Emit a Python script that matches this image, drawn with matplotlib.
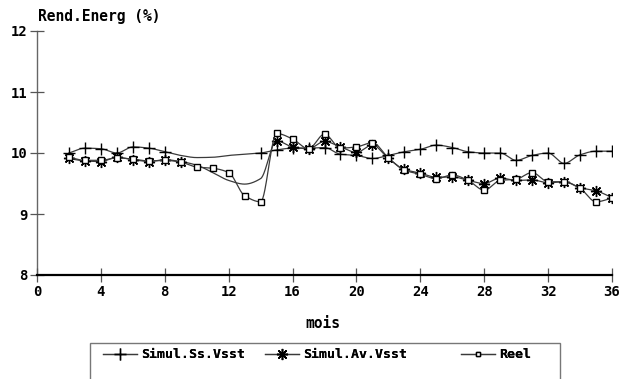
import numpy as np
import matplotlib
matplotlib.use("Agg")
import matplotlib.pyplot as plt
from matplotlib.lines import Line2D
from matplotlib.patches import Rectangle

# Rendement énergétique mensuel : deux simulations et valeurs réelles
mois = list(range(2, 37))

rend_ss = [10.0, 10.08, 10.07, 10.0, 10.10, 10.08, 10.02, 9.96, 9.925, 9.93,
           9.96, 9.98, 10.0, 10.05, 10.08, 10.08, 10.09, 9.98, 9.96, 9.91,
           9.96, 10.02, 10.06, 10.13, 10.09, 10.02, 10.0, 10.0, 9.88, 9.96,
           10.0, 9.83, 9.97, 10.03, 10.03]
# mois sans mesure simulée (courbe seulement, pas de symbole)
trou_ss = [9, 10, 11, 12, 13]

rend_av = [9.91, 9.87, 9.86, 9.93, 9.89, 9.86, 9.89, 9.86, 9.80, 9.68, 9.55,
           9.49, 9.58, 10.2, 10.1, 10.07, 10.19, 10.1, 10.01, 10.13, 9.91,
           9.73, 9.67, 9.6, 9.61, 9.55, 9.5, 9.59, 9.55, 9.56, 9.51, 9.53,
           9.43, 9.38, 9.27]
trou_av = [10, 11, 12, 13, 14]

rend_reel = [9.93, 9.88, 9.88, 9.92, 9.9, 9.87, 9.88, 9.85, 9.77, 9.75, 9.68,
             9.30, 9.20, 10.32, 10.23, 10.07, 10.31, 10.08, 10.10, 10.17, 9.92,
             9.72, 9.65, 9.58, 9.64, 9.55, 9.39, 9.55, 9.57, 9.68, 9.53, 9.53,
             9.42, 9.20, 9.26]
trou_reel = []

noms = ['Simul.Ss.Vsst', 'Simul.Av.Vsst', 'Reel']
x_ticks = [0, 4, 8, 12, 16, 20, 24, 28, 32, 36]
y_ticks = [8, 9, 10, 11, 12]


# interpolation monotone (Fritsch-Carlson) pour lisser les courbes
def lisser(x, y, pas=30):
    x = np.asarray(x, float)
    y = np.asarray(y, float)
    h = np.diff(x)
    d = np.diff(y) / h
    n = len(x)
    m = np.zeros(n)
    m[0] = d[0]
    m[-1] = d[-1]
    for i in range(1, n - 1):
        if d[i - 1] * d[i] > 0:
            w1 = 2 * h[i] + h[i - 1]
            w2 = h[i] + 2 * h[i - 1]
            m[i] = (w1 + w2) / (w1 / d[i - 1] + w2 / d[i])
    xs, ys = [], []
    for i in range(n - 1):
        t = np.linspace(0, 1, pas, endpoint=False)
        h00 = 2 * t**3 - 3 * t**2 + 1
        h10 = t**3 - 2 * t**2 + t
        h01 = -2 * t**3 + 3 * t**2
        h11 = t**3 - t**2
        xs.extend(x[i] + t * h[i])
        ys.extend(h00 * y[i] + h10 * h[i] * m[i] + h01 * y[i + 1]
                  + h11 * h[i] * m[i + 1])
    xs.append(x[-1])
    ys.append(y[-1])
    return np.array(xs), np.array(ys)


plt.rcParams['font.family'] = 'DejaVu Sans Mono'
plt.rcParams['font.weight'] = 'bold'

fig = plt.figure(figsize=(6.19, 3.79), dpi=100)
ax = fig.add_axes([37 / 619, 104 / 379, 575 / 619, 244 / 379])

ligne = '#3a3a3a'
asterisque = (8, 2, 0)

series = [(rend_ss, trou_ss, '+', 9),
          (rend_av, trou_av, asterisque, 8),
          (rend_reel, trou_reel, 's', 5)]
for rend, trou, mk, ms in series:
    xs, ys = lisser(mois, rend)
    ax.plot(xs, ys, color=ligne, lw=0.9)
    mx = [m for m in mois if m not in trou]
    my = [r for m, r in zip(mois, rend) if m not in trou]
    ax.plot(mx, my, ls='none', marker=mk, ms=ms, mec='black',
            mfc='white', mew=1.0)

ax.set_xlim(0, 36)
ax.set_ylim(8, 12)
ax.set_xticks(x_ticks)
ax.set_yticks(y_ticks)
ax.tick_params(axis='both', direction='inout', length=10, width=0.9,
               labelsize=10, color='#555555')
ax.tick_params(axis='x', pad=2)
ax.tick_params(axis='y', pad=2)

for cote in ['top', 'right']:
    ax.spines[cote].set_visible(False)
ax.spines['left'].set_color('#666666')
ax.spines['left'].set_linewidth(1.0)
ax.spines['bottom'].set_color('black')
ax.spines['bottom'].set_linewidth(1.6)
ax.spines['left'].set_zorder(0)

fig.text(38 / 619, 1 - 17 / 379, 'Rend.Energ (%)', fontsize=10.5,
         ha='left', va='center')
fig.text(323 / 619, 1 - 323 / 379, 'mois', fontsize=10.5,
         ha='center', va='center')

# légende : cadre ouvert vers le bas, une entrée par position
fig.patches.append(Rectangle((90 / 619, -0.05), 470 / 619,
                             0.05 + 36 / 379, transform=fig.transFigure,
                             fill=False, edgecolor='#777777', lw=1.0))
poignees = [
    Line2D([], [], color=ligne, lw=0.9, marker='+', ms=9, mec='black'),
    Line2D([], [], color=ligne, lw=0.9, marker=asterisque, ms=8, mec='black'),
    Line2D([], [], color=ligne, lw=0.9, marker='s', ms=3.5, mec='black',
           mfc='white'),
]
pos_legende = [103, 265, 461]
for poignee, nom, px in zip(poignees, noms, pos_legende):
    leg = fig.legend([poignee], [nom], loc='center left',
                     bbox_to_anchor=(px / 619, 1 - 355 / 379),
                     frameon=False, fontsize=9.5, handlelength=2.6,
                     handletextpad=0.3, borderpad=0, borderaxespad=0)
    fig.add_artist(leg)

fig.savefig('out.png', dpi=100)
